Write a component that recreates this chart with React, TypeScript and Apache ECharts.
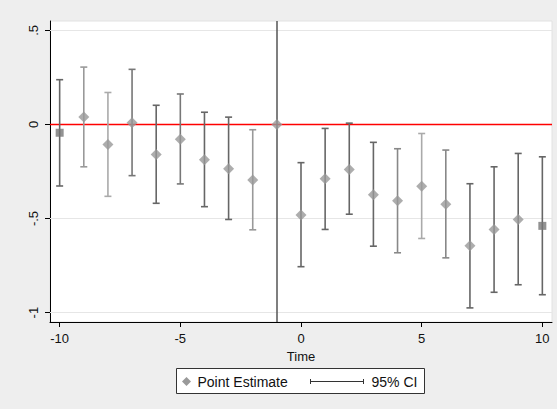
import React, { useEffect, useRef } from "react";
import * as echarts from "echarts";

const times = [-10, -9, -8, -7, -6, -5, -4, -3, -2, -1, 0, 1, 2, 3, 4, 5, 6, 7, 8, 9, 10];
const estimates = [-0.044, 0.04, -0.106, 0.009, -0.159, -0.078, -0.187, -0.235, -0.295, 0, -0.481, -0.288, -0.239, -0.373, -0.405, -0.329, -0.424, -0.645, -0.558, -0.505, -0.539];
const ciUpper = [0.238, 0.305, 0.17, 0.293, 0.102, 0.162, 0.065, 0.039, -0.028, null, -0.203, -0.021, 0.007, -0.095, -0.129, -0.048, -0.136, -0.315, -0.225, -0.154, -0.172];
const ciLower = [-0.327, -0.225, -0.382, -0.272, -0.419, -0.316, -0.437, -0.505, -0.56, null, -0.756, -0.558, -0.477, -0.647, -0.682, -0.606, -0.709, -0.975, -0.892, -0.852, -0.905];
const barShades = ["#666", "#999", "#aaa", "#777", "#666", "#777", "#666", "#666", "#999", "#666", "#666", "#666", "#666", "#666", "#888", "#aaa", "#888", "#666", "#666", "#666", "#666"];
const yTicks = [-1, -0.5, 0, 0.5];
const xTicks = [-10, -5, 0, 5, 10];
const yLabel = (v: number) => (v === 0 ? "0" : v === 0.5 ? ".5" : v === -0.5 ? "-.5" : String(v));

export default function App() {
  const ref = useRef<HTMLDivElement>(null);
  useEffect(() => {
    const chart = echarts.init(ref.current!, null, { renderer: "svg" });
    const font = "Liberation Sans, Arial, sans-serif";
    const ciData = times
      .map((t, i) => (ciUpper[i] === null ? null : [t, ciLower[i], ciUpper[i], i]))
      .filter((d) => d !== null);
    const pointData = times.map((t, i) => {
      const edge = t === -10 || t === 10;
      return edge
        ? { value: [t, estimates[i]], symbol: "rect", symbolSize: 8, itemStyle: { color: "#777" } }
        : { value: [t, estimates[i]], symbol: "diamond", symbolSize: 11, itemStyle: { color: "#999" } };
    });
    chart.setOption({
      animation: false,
      backgroundColor: "#eeeeee",
      textStyle: { fontFamily: font },
      grid: {
        left: 50, right: 5, top: 21, bottom: 87,
        show: true, backgroundColor: "#ffffff", borderColor: "#e2e2e2", borderWidth: 1,
      },
      xAxis: {
        type: "value", min: -10.4, max: 10.4,
        name: "Time", nameLocation: "middle", nameGap: 24,
        nameTextStyle: { color: "#111", fontSize: 13, fontFamily: font },
        axisLine: { show: true, onZero: false, lineStyle: { color: "#000", width: 1 } },
        axisTick: { show: true, customValues: xTicks, length: 5, lineStyle: { color: "#000" } },
        axisLabel: { customValues: xTicks, margin: 10, color: "#111", fontSize: 13, fontFamily: font },
        splitLine: { show: false },
      },
      yAxis: {
        type: "value", min: -1.05, max: 0.55,
        axisLine: { show: true, onZero: false, lineStyle: { color: "#000", width: 1 } },
        axisTick: { show: true, customValues: yTicks, length: 5, lineStyle: { color: "#000" } },
        axisLabel: {
          customValues: yTicks, rotate: 90, margin: 10, color: "#111", fontSize: 13, fontFamily: font,
          formatter: (v: number) => yLabel(v),
        },
        splitLine: { show: false },
      },
      series: [
        {
          type: "custom",
          name: "95% CI",
          data: ciData,
          z: 3,
          renderItem: (params: any, api: any) => {
            const x = api.value(0);
            const lo = api.coord([x, api.value(1)]);
            const hi = api.coord([x, api.value(2)]);
            const idx = api.value(3);
            const color = barShades[idx];
            const style = { stroke: color, lineWidth: 1.6 };
            const cap = 3.5;
            return {
              type: "group",
              children: [
                { type: "line", shape: { x1: lo[0], y1: lo[1], x2: hi[0], y2: hi[1] }, style },
                { type: "line", shape: { x1: hi[0] - cap, y1: hi[1], x2: hi[0] + cap, y2: hi[1] }, style },
                { type: "line", shape: { x1: lo[0] - cap, y1: lo[1], x2: lo[0] + cap, y2: lo[1] }, style },
              ],
            };
          },
        },
        {
          type: "scatter",
          name: "Point Estimate",
          data: pointData,
          z: 5,
          markLine: {
            silent: true,
            symbol: "none",
            label: { show: false },
            z: 1,
            data: [
              { yAxis: 0.5, lineStyle: { color: "#e6e6e6", width: 1, type: "solid" } },
              { yAxis: -0.5, lineStyle: { color: "#e6e6e6", width: 1, type: "solid" } },
              { yAxis: -1, lineStyle: { color: "#e6e6e6", width: 1, type: "solid" } },
              { yAxis: 0, lineStyle: { color: "#ff0000", width: 1.3, type: "solid" } },
              { xAxis: -1, lineStyle: { color: "#555555", width: 1.5, type: "solid" } },
            ],
          },
        },
      ],
      graphic: [
        {
          type: "group",
          left: 176, top: 368,
          children: [
            { type: "rect", shape: { x: 0, y: 0, width: 248, height: 25 }, style: { fill: "#ffffff", stroke: "#333", lineWidth: 1 } },
            { type: "polygon", shape: { points: [[10, 8.5], [14.5, 13], [10, 17.5], [5.5, 13]] }, style: { fill: "#999" } },
            { type: "text", x: 21, y: 13, style: { text: "Point Estimate", fill: "#111", font: `14px ${font}`, verticalAlign: "middle" } },
            { type: "line", shape: { x1: 134, y1: 13, x2: 187, y2: 13 }, style: { stroke: "#333", lineWidth: 1 } },
            { type: "line", shape: { x1: 134, y1: 10.5, x2: 134, y2: 15.5 }, style: { stroke: "#333", lineWidth: 1 } },
            { type: "line", shape: { x1: 187, y1: 10.5, x2: 187, y2: 15.5 }, style: { stroke: "#333", lineWidth: 1 } },
            { type: "text", x: 195, y: 13, style: { text: "95% CI", fill: "#111", font: `14px ${font}`, verticalAlign: "middle" } },
          ],
        },
      ],
    });
    return () => chart.dispose();
  }, []);
  return <div ref={ref} style={{ position: "fixed", left: 0, top: 0, width: 557, height: 409 }} />;
}
